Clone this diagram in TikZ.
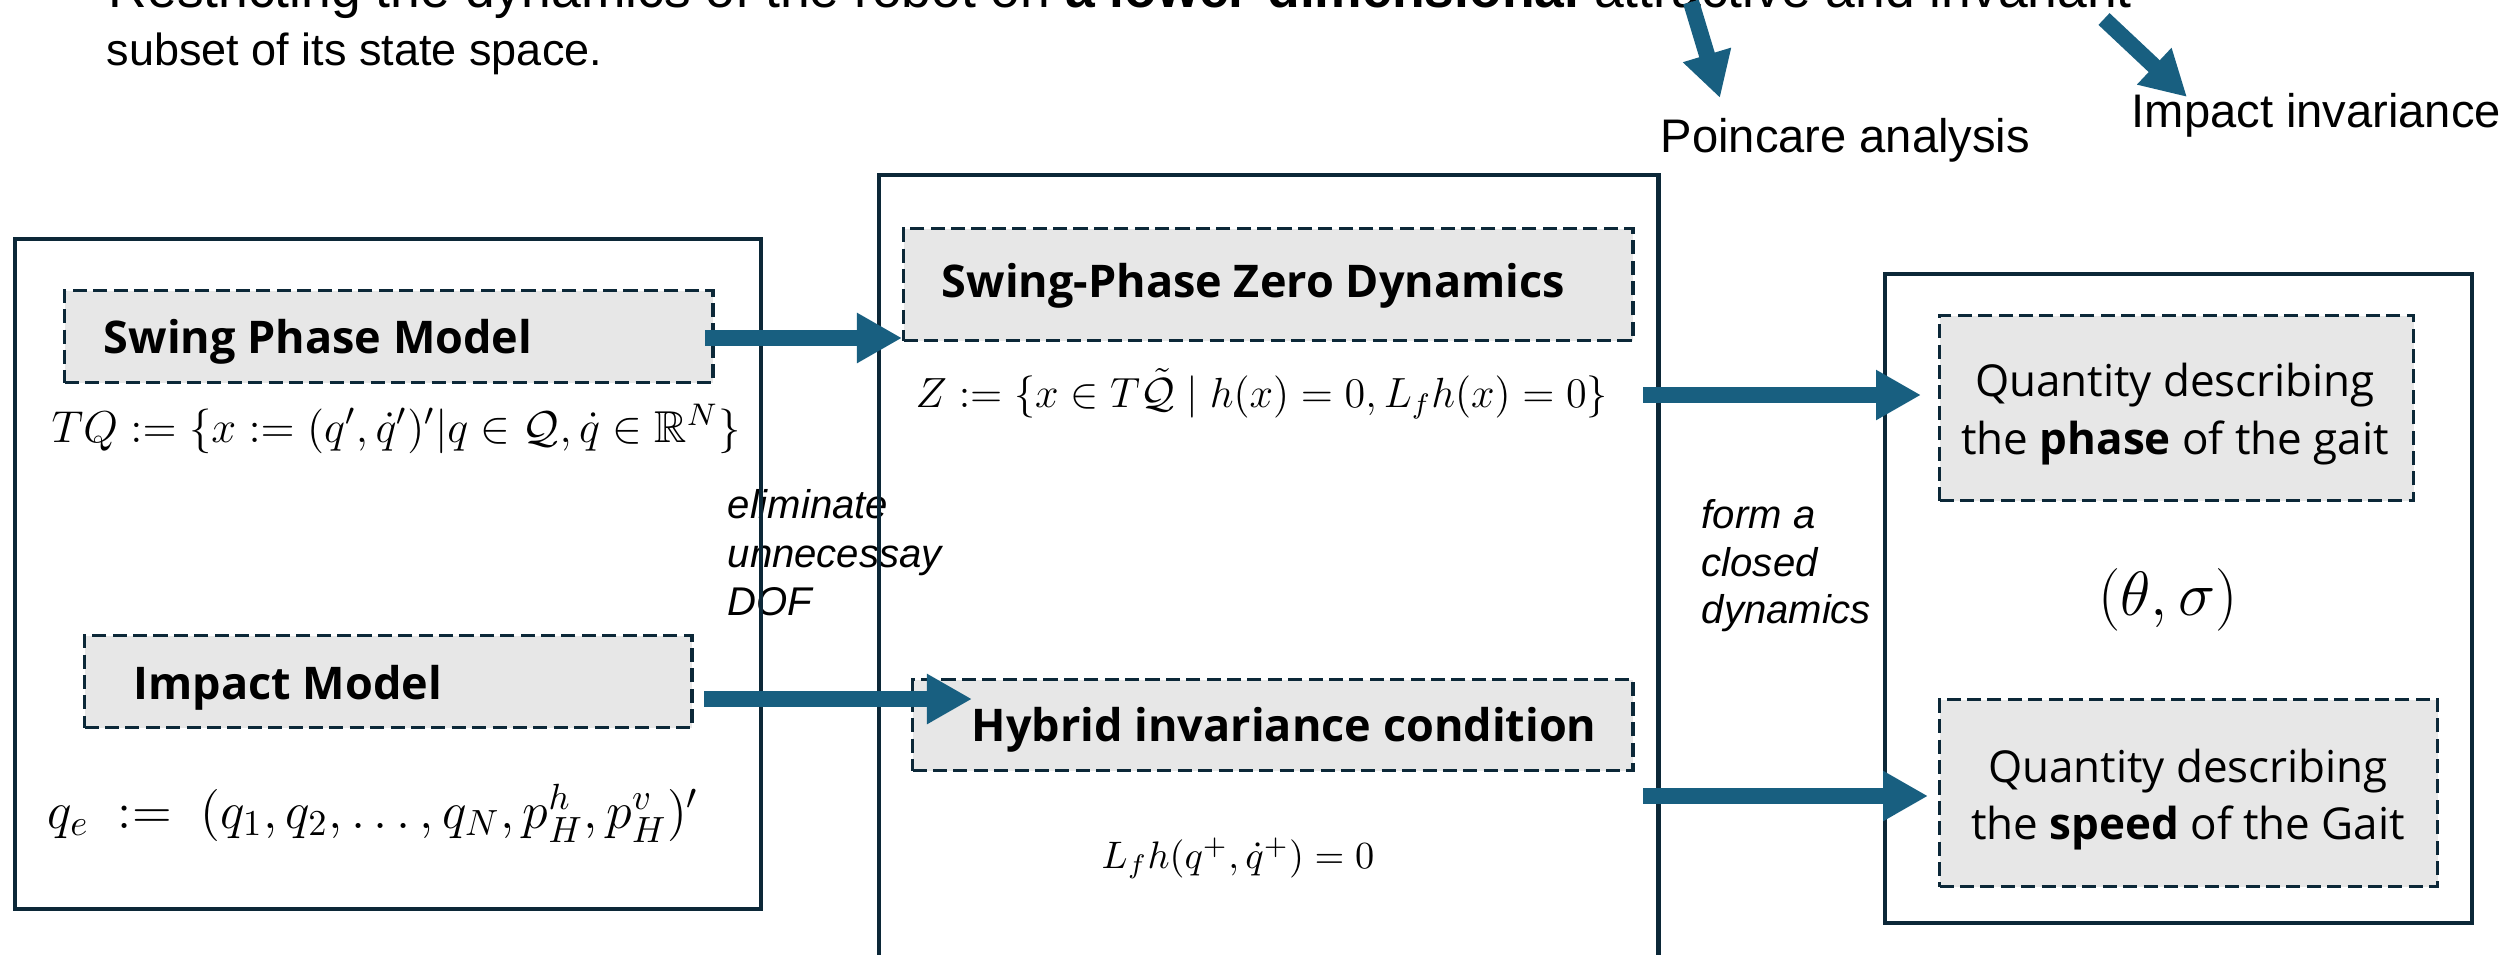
\RequirePackage{fix-cm}
\documentclass[tikz,border=0pt]{standalone}
\usepackage{fontspec}
\usepackage{amssymb}
\setmainfont{Liberation Sans}
\newfontfamily\yh{Open Sans}
\usetikzlibrary{arrows.meta}
\definecolor{navy}{RGB}{12,40,56}
\definecolor{arrowblue}{RGB}{24,95,128}
\definecolor{boxgray}{RGB}{231,231,231}
\begin{document}
\begin{tikzpicture}[x=0.01cm,y=-0.01cm,
  outerbox/.style={draw=navy, line width=1.15pt, inner sep=0pt, anchor=north west},
  dbox/.style={draw=navy, fill=boxgray, line width=0.9pt, dash pattern=on 4pt off 1.8pt, inner sep=0pt, anchor=north west},
  bigarrow/.style={draw=arrowblue, line width=4.6pt, -{Triangle[length=12.8pt,width=13.4pt]}},
  txt/.style={inner sep=0pt, anchor=base west},
  toptext/.style={txt, font=\fontsize{12.8pt}{15pt}\selectfont},
  lbl/.style={txt, font=\fontsize{13.4pt}{16pt}\selectfont},
  itl/.style={txt, font=\fontsize{11.4pt}{13.8pt}\selectfont\itshape},
  title/.style={txt, font=\fontsize{12.8pt}{15pt}\selectfont\yh\bfseries},
  qty/.style={inner sep=0pt, anchor=base, font=\fontsize{12.5pt}{15pt}\selectfont\yh},
  ]
\useasboundingbox (0,0) rectangle (2509,954);

% top text (partly cut off)
\node[txt, font=\fontsize{15.2pt}{18pt}\selectfont] (top1) at (108,7) {Restricting the dynamics of the robot on \textbf{a lower-dimensional} attractive and invariant};
\node[toptext] (top2) at (106,65) {subset of its state space.};

% top labels and arrows
\node[lbl] (poinc) at (1660,152) {Poincare analysis};
\node[lbl] (impinv) at (2131,127) {Impact invariance};
\coordinate (pt) at (1691,2);
\coordinate (ph) at (1720,98);
\coordinate (it) at (2104,19);
\coordinate (ih) at (2187,97);
\draw[bigarrow] (pt) -- (ph);
\draw[bigarrow] (it) -- (ih);

% side labels (drawn below the box borders)
\node[itl] (el1) at (727,518) {eliminate};
\node[itl] (el2) at (727,567) {unnecessay};
\node[itl] (el3) at (727,615) {DOF};
\node[itl] (fc1) at (1701,528) {form a};
\node[itl] (fc2) at (1701,576) {closed};
\node[itl] (fc3) at (1701,623) {dynamics};

% outer boxes
\node[outerbox, minimum width=7.46cm, minimum height=6.70cm] (left) at (13,237) {};
\node[outerbox, minimum width=7.79cm, minimum height=8.40cm] (mid) at (877,173) {};
\node[outerbox, minimum width=5.87cm, minimum height=6.49cm] (right) at (1883,272) {};

% left column
\node[dbox, minimum width=6.48cm, minimum height=0.92cm] (swing) at (63,289) {};
\node[title] (swingT) at (103,353) {Swing Phase Model};
\node[txt, font=\fontsize{12.7pt}{15pt}\selectfont] (tq) at (51,442)
  {$TQ := \{x := (q',\dot{q}')' | q \in \mathcal{Q}, \dot{q} \in \mathbb{R}^N\}$};
\node[dbox, minimum width=6.07cm, minimum height=0.92cm] (impact) at (83,634) {};
\node[title] (impactT) at (133,699) {Impact Model};
\node[txt, font=\fontsize{14.8pt}{18pt}\selectfont] (qe) at (47,828)
  {$q_e\ :=\ (q_1, q_2, \ldots, q_N, p_H^h, p_H^v)'$};

% middle column
\node[dbox, minimum width=7.29cm, minimum height=1.12cm] (zero) at (902,227) {};
\node[title] (zeroT) at (941,297) {Swing-Phase Zero Dynamics};
\node[txt, font=\fontsize{12pt}{15pt}\selectfont] (zf) at (915,407)
  {$Z := \{x \in T\tilde{\mathcal{Q}} \mid h(x) = 0, L_f h(x) = 0\}$};
\node[dbox, minimum width=7.20cm, minimum height=0.91cm] (hybrid) at (911,678) {};
\node[title] (hybridT) at (971,741) {Hybrid invariance condition};
\node[txt, font=\fontsize{10.9pt}{13pt}\selectfont] (lf) at (1101,868)
  {$L_f h(q^+, \dot{q}^+) = 0$};

% right column
\node[dbox, minimum width=4.74cm, minimum height=1.85cm] (phase) at (1938,314) {};
\node[qty] (ph1) at (2175,396) {Quantity describing};
\node[qty] (ph2) at (2175,454) {the \textbf{phase} of the gait};
\node[inner sep=0pt, font=\fontsize{17.8pt}{20pt}\selectfont] (ts) at (2168,600) {$(\theta, \sigma)$};
\node[dbox, minimum width=4.98cm, minimum height=1.87cm] (speed) at (1938,698) {};
\node[qty] (sp1) at (2188,782) {Quantity describing};
\node[qty] (sp2) at (2188,839) {the \textbf{speed} of the Gait};

% main arrows
\coordinate (a1s) at (705,338);
\coordinate (a1e) at (902,338);
\coordinate (a2s) at (704,699);
\coordinate (a2e) at (972,699);
\coordinate (a3s) at (1643,395);
\coordinate (a3e) at (1921,395);
\coordinate (a4s) at (1643,796);
\coordinate (a4e) at (1928,796);
\draw[bigarrow] (a1s) -- (a1e);
\draw[bigarrow] (a2s) -- (a2e);
\draw[bigarrow] (a3s) -- (a3e);
\draw[bigarrow] (a4s) -- (a4e);
\end{tikzpicture}
\end{document}
